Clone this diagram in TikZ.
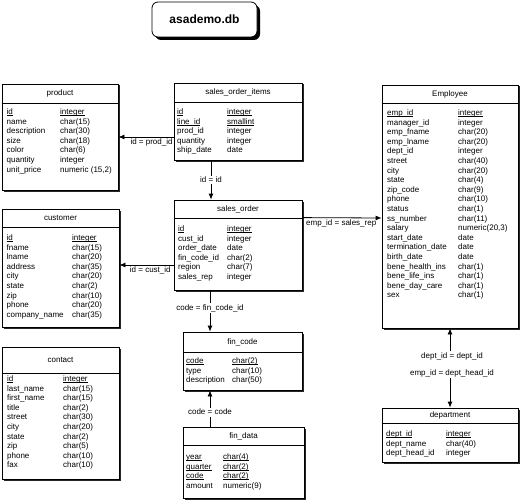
\documentclass[tikz,border=0pt]{standalone}
\usepackage{fontspec}
\setmainfont{Liberation Sans}
\usetikzlibrary{arrows.meta,shadows}

\newcommand\keyul[1]{\leavevmode\setbox0\hbox{#1}\rlap{\rule[-1.3pt]{\wd0}{0.5pt}}#1}

\tikzset{
  entity/.style={draw,line width=0.8pt,fill=white,inner sep=0pt,
    drop shadow={shadow xshift=1.5pt,shadow yshift=-1.5pt,fill=black!85,opacity=1}},
  hdr/.style={inner sep=0pt,font=\fontsize{8}{9.6}\selectfont},
  rows/.style={anchor=north west,inner sep=0pt,font=\fontsize{8}{9.6}\selectfont},
  fk/.style={line width=0.8pt,-{Latex[length=6pt,width=5pt]}},
  lbl/.style={inner sep=1.5pt,font=\fontsize{8}{9.6}\selectfont},
  dbbox/.style={draw,line width=0.8pt,fill=white,rounded corners=6pt,
    minimum width=105pt,minimum height=35pt,font=\fontsize{12}{14}\selectfont\bfseries,
    drop shadow={shadow xshift=3pt,shadow yshift=-3pt,fill=black,opacity=1}}
}
\setlength\tabcolsep{0pt}

\begin{document}
\begin{tikzpicture}[x=1pt,y=-1pt]
  \useasboundingbox (0,0) rectangle (521,500);

  % title
  \node[dbbox] (db) at (204.5,19.5) {asademo.db};

  % product
  \node[entity,minimum width=116pt,minimum height=106pt] (prod) at (60,137) {};
  \node[hdr] (prod-t) at (60,93.5) {product};
  \draw[line width=0.8pt] (prod.west |- 0,103) -- (prod.east |- 0,103);
  \node[rows] (prod-r) at (6.5,107.5) {\begin{tabular}{@{}p{53.5pt}@{}l@{}}
    \keyul{id} & \keyul{integer}\\ name & char(15)\\ description & char(30)\\
    size & char(18)\\ color & char(6)\\ quantity & integer\\ unit\_price & numeric (15,2)
  \end{tabular}};

  % sales_order_items
  \node[entity,minimum width=128pt,minimum height=77pt] (soi) at (238,121.5) {};
  \node[hdr] (soi-t) at (238,92.5) {sales\_order\_items};
  \draw[line width=0.8pt] (soi.west |- 0,102) -- (soi.east |- 0,102);
  \node[rows] (soi-r) at (177,107.5) {\begin{tabular}{@{}p{50pt}@{}l@{}}
    \keyul{id} & \keyul{integer}\\ \keyul{line\_id} & \keyul{smallint}\\
    prod\_id & integer\\ quantity & integer\\ ship\_date & date
  \end{tabular}};

  % customer
  \node[entity,minimum width=117pt,minimum height=118pt] (cust) at (60.5,268) {};
  \node[hdr] (cust-t) at (60.5,218) {customer};
  \draw[line width=0.8pt] (cust.west |- 0,227) -- (cust.east |- 0,227);
  \node[rows] (cust-r) at (6.5,233.5) {\begin{tabular}{@{}p{65.5pt}@{}l@{}}
    \keyul{id} & \keyul{integer}\\ fname & char(15)\\ lname & char(20)\\
    address & char(35)\\ city & char(20)\\ state & char(2)\\ zip & char(10)\\
    phone & char(20)\\ company\_name & char(35)
  \end{tabular}};

  % sales_order
  \node[entity,minimum width=128pt,minimum height=90pt] (so) at (238,245) {};
  \node[hdr] (so-t) at (238,209) {sales\_order};
  \draw[line width=0.8pt] (so.west |- 0,218) -- (so.east |- 0,218);
  \node[rows] (so-r) at (178,224.5) {\begin{tabular}{@{}p{49pt}@{}l@{}}
    \keyul{id} & \keyul{integer}\\ cust\_id & integer\\ order\_date & date\\
    fin\_code\_id & char(2)\\ region & char(7)\\ sales\_rep & integer
  \end{tabular}};

  % contact
  \node[entity,minimum width=117pt,minimum height=132pt] (cont) at (60.5,413) {};
  \node[hdr] (cont-t) at (60.5,360) {contact};
  \draw[line width=0.8pt] (cont.west |- 0,373) -- (cont.east |- 0,373);
  \node[rows] (cont-r) at (7,374.5) {\begin{tabular}{@{}p{56pt}@{}l@{}}
    \keyul{id} & \keyul{integer}\\ last\_name & char(15)\\ first\_name & char(15)\\
    title & char(2)\\ street & char(30)\\ city & char(20)\\ state & char(2)\\
    zip & char(5)\\ phone & char(10)\\ fax & char(10)
  \end{tabular}};

  % fin_code
  \node[entity,minimum width=119pt,minimum height=58pt] (fc) at (242.5,361) {};
  \node[hdr] (fc-t) at (242.5,342) {fin\_code};
  \draw[line width=0.8pt] (fc.west |- 0,352) -- (fc.east |- 0,352);
  \node[rows] (fc-r) at (186,356.5) {\begin{tabular}{@{}p{46pt}@{}l@{}}
    \keyul{code} & \keyul{char(2)}\\ type & char(10)\\ description & char(50)
  \end{tabular}};

  % fin_data
  \node[entity,minimum width=121pt,minimum height=71pt] (fd) at (243.5,462.5) {};
  \node[hdr] (fd-t) at (243.5,436) {fin\_data};
  \draw[line width=0.8pt] (fd.west |- 0,445) -- (fd.east |- 0,445);
  \node[rows] (fd-r) at (186,452.5) {\begin{tabular}{@{}p{37pt}@{}l@{}}
    \keyul{year} & \keyul{char(4)}\\ \keyul{quarter} & \keyul{char(2)}\\
    \keyul{code} & \keyul{char(2)}\\ amount & numeric(9)
  \end{tabular}};

  % Employee
  \node[entity,minimum width=136pt,minimum height=243pt] (emp) at (450,206.5) {};
  \node[hdr] (emp-t) at (450,94) {Employee};
  \draw[line width=0.8pt] (emp.west |- 0,103) -- (emp.east |- 0,103);
  \node[rows] (emp-r) at (387,108.5) {\begin{tabular}{@{}p{71pt}@{}l@{}}
    \keyul{emp\_id} & \keyul{integer}\\ manager\_id & integer\\
    emp\_fname & char(20)\\ emp\_lname & char(20)\\ dept\_id & integer\\
    street & char(40)\\ city & char(20)\\ state & char(4)\\ zip\_code & char(9)\\
    phone & char(10)\\ status & char(1)\\ ss\_number & char(11)\\
    salary & numeric(20,3)\\ start\_date & date\\ termination\_date & date\\
    birth\_date & date\\ bene\_health\_ins & char(1)\\ bene\_life\_ins & char(1)\\
    bene\_day\_care & char(1)\\ sex & char(1)
  \end{tabular}};

  % department
  \node[entity,minimum width=136pt,minimum height=54pt] (dept) at (450,435) {};
  \node[hdr] (dept-t) at (450,415.5) {department};
  \draw[line width=0.8pt] (dept.west |- 0,423) -- (dept.east |- 0,423);
  \node[rows] (dept-r) at (386,429.5) {\begin{tabular}{@{}p{60pt}@{}l@{}}
    \keyul{dept\_id} & \keyul{integer}\\ dept\_name & char(40)\\
    dept\_head\_id & integer
  \end{tabular}};

  % relationships
  \draw[fk] (soi.west |- prod.east) -- node[lbl,below,pos=0.4] {id = prod\_id} (prod.east);
  \draw[fk] ([xshift=-27pt]soi.south) -- node[lbl,fill=white] {id = id} ([xshift=-27pt]so.north);
  \draw[fk] (so.west |- 0,265) -- node[lbl,below,pos=0.43] {id = cust\_id} (cust.east |- 0,265);
  \draw[fk] ([xshift=-28pt]so.south) -- node[lbl,fill=white,pos=0.43] {code = fin\_code\_id} ([xshift=-32.5pt]fc.north);
  \draw[fk] ([xshift=-33.5pt]fd.north) -- node[lbl,fill=white,pos=0.4] {code = code} ([xshift=-32.5pt]fc.south);
  \draw[fk] ([yshift=-18pt]so.north east) -- node[lbl,below,pos=0.49] {emp\_id = sales\_rep} (emp.west |- 0,218);

  \node[lbl] (dl1) at (452,356) {dept\_id = dept\_id};
  \node[lbl] (dl2) at (452,373) {emp\_id = dept\_head\_id};
  \draw[fk] (emp.south |- dl1.north) -- (emp.south);
  \draw[fk] (dept.north |- dl2.south) -- (dept.north);
\end{tikzpicture}
\end{document}
